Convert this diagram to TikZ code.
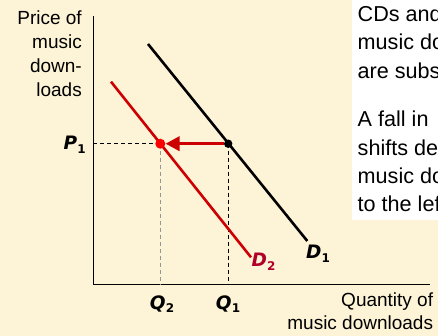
\documentclass[tikz,border=0pt]{standalone}
\usepackage{fontspec}
\setmainfont{Liberation Sans}
\newfontfamily\labfont{DejaVu Sans}
\usetikzlibrary{arrows.meta}
\definecolor{bg}{RGB}{253,243,214}
\definecolor{dred}{RGB}{204,0,0}
\definecolor{dotred}{RGB}{255,0,0}
\definecolor{labred}{RGB}{176,0,42}
\definecolor{qgray}{RGB}{150,150,150}
\newcommand{\lab}[2]{{\labfont\fontsize{18.5}{18.5}\selectfont\bfseries\itshape #1\kern0.3pt\raisebox{-3.5pt}{\upshape\fontsize{12}{12}\selectfont #2}}}
\begin{document}
\begin{tikzpicture}[x=1pt,y=-1pt,
  axis/.style={line width=1.3pt},
  curve/.style={line width=2.6pt},
  guide/.style={line width=0.9pt,dash pattern=on 4pt off 3pt},
  dot/.style={circle,inner sep=0pt},
  axtext/.style={font=\fontsize{19}{24}\selectfont,align=right,inner sep=0pt},
  boxtext/.style={font=\fontsize{21.6}{28.3}\selectfont,align=left,inner sep=0pt,anchor=base west},
  lbl/.style={inner sep=0pt}]
\useasboundingbox (0,0) rectangle (438,336);
\clip (0,0) rectangle (438,336);
\fill[bg] (0,0) rectangle (438,336);
\fill[white] (352.3,-5) rectangle (500,220);
% right text (anchored at the baseline of the last line)
\node[boxtext] (t1) at (357.5,78.3) {CDs and\\music downloads\\are substitutes.};
\node[boxtext] (t2) at (357.5,211.7) {A fall in\\shifts demand for\\music downloads\\to the left.};
% axes
\coordinate (ytop) at (93.3,16);
\coordinate (O) at (93.3,284.3);
\coordinate (xend) at (430,284.3);
\draw[axis] (ytop) -- (O) -- (xend);
% demand curves
\coordinate (d1a) at (148,44);
\coordinate (d1b) at (307.3,241);
\coordinate (d2a) at (111,81.7);
\coordinate (d2b) at (251,257.3);
% equilibrium points
\coordinate (e1) at (228.2,143.7);
\coordinate (e2) at (160.3,143.7);
\draw[guide] (ytop |- e2) -- (e2);
\draw[guide,qgray] (e2) -- (e2 |- O);
\draw[guide] (e1) -- (e1 |- O);
\draw[curve,dred] (d2a) -- (d2b);
\draw[curve] (d1a) -- (d1b);
\node[dot,fill=black,minimum size=8.4pt] (E1) at (e1) {};
\node[dot,fill=dotred,minimum size=10pt] (E2) at (e2) {};
\draw[dred,line width=3.3pt,-{Triangle[length=14pt,width=14pt]}] (E1.west) -- (E2.east);
% labels
\node[lbl,anchor=east] (P1) at (86,145) {\lab{P}{1}};
\node[lbl] (Q2) at (162,304) {\lab{Q}{2}};
\node[lbl] (Q1) at (228,304) {\lab{Q}{1}};
\node[lbl] (D1) at (318,254) {\lab{D}{1}};
\node[lbl,text=labred] (D2) at (263.5,262) {\lab{D}{2}};
% axis titles (anchored at the baseline of the last line)
\node[axtext,anchor=base east] (ylab) at (82,96.7) {Price of\\music\\down-\\loads};
\node[axtext,anchor=base east,font=\fontsize{19}{22.7}\selectfont] (xlab) at (433.3,329.3) {Quantity of\\music downloads};
\end{tikzpicture}
\end{document}
